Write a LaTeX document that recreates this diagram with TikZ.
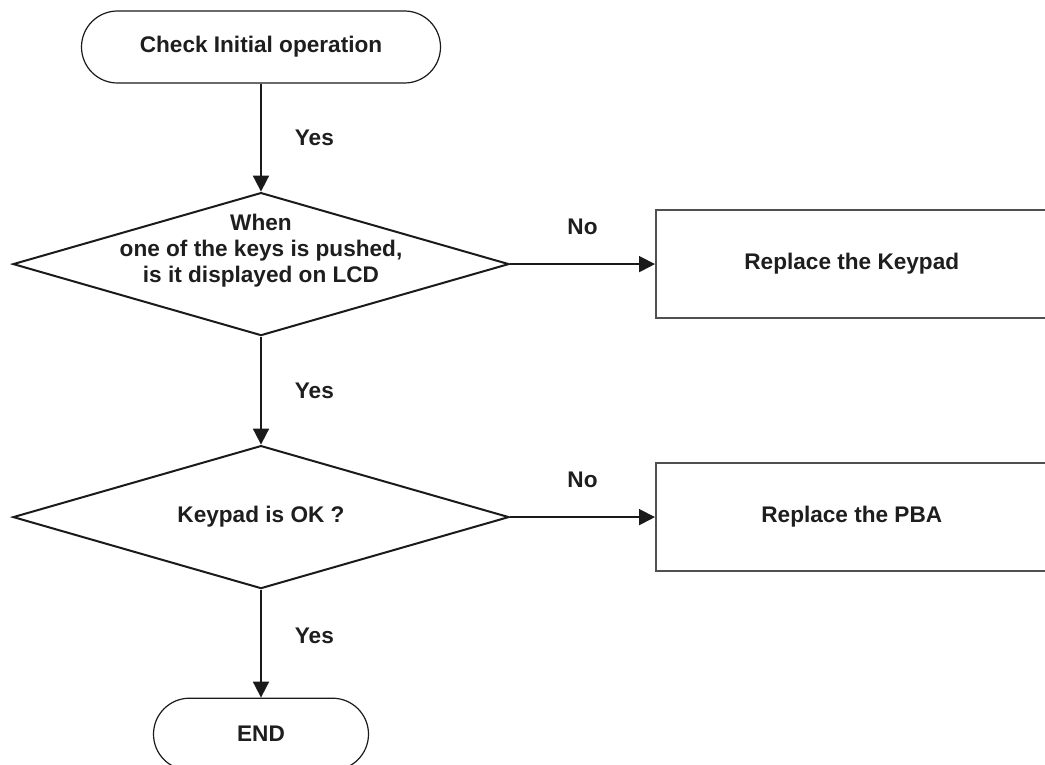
\documentclass[tikz,border=0pt]{standalone}
\usepackage{fontspec}
\setmainfont{Liberation Sans}
\usepackage{tikz}
\usetikzlibrary{arrows.meta,positioning,shapes.geometric}
\definecolor{FInk}{HTML}{1E1E1E}
\definecolor{FLine}{HTML}{1A1A1A}
\definecolor{FGrey}{HTML}{505050}

\begin{document}
\begin{tikzpicture}[
  x=1pt,y=1pt,
  node distance=108pt and 145pt,
  every node/.style={font=\fontsize{22.6pt}{26pt}\selectfont\bfseries,text=FInk},
  term/.style={draw=FLine,line width=1.2pt,rounded corners=36pt,
    minimum height=72pt,inner sep=0pt},
  decision/.style={diamond,draw=FLine,line width=2pt,
    minimum width=496pt,minimum height=143pt,inner sep=0pt},
  fixbox/.style={draw=FGrey,line width=1.6pt,minimum width=392pt,minimum height=108pt},
  qtext/.style={align=center},
  yn/.style={inner sep=0pt},
  a/.style={-{Triangle[length=16pt,width=16pt]},line width=1.8pt,color=FLine}
]
  \useasboundingbox (0,0) rectangle (1045,-765);
  \node[term,minimum width=359pt] (start) at (261,-47) {Check Initial operation};
  \node[decision,below=of start,
    label={[qtext,yshift=13pt]center:{When\\one of the keys is pushed,\\is it displayed on LCD}}] (keyq) {};
  \node[fixbox,right=of keyq] (keypad) {Replace the Keypad};
  \node[decision,below=of keyq,label={[qtext]center:Keypad is OK ?}] (padq) {};
  \node[fixbox,right=of padq] (pba) {Replace the PBA};
  \node[term,minimum width=215pt,below=of padq] (end) {END};
  % yes branches
  \draw[a] (start) -- node[yn,right=33pt] {Yes} (keyq);
  \draw[a] (keyq) -- node[yn,right=33pt] {Yes} (padq);
  \draw[a] (padq) -- node[yn,right=33pt,pos=0.43] {Yes} (end);
  % no branches
  \foreach \x/\y in {keyq/keypad,padq/pba}
    {\draw[a] (\x) -- node[yn,above=28pt] {No} (\y);}
\end{tikzpicture}
\end{document}
